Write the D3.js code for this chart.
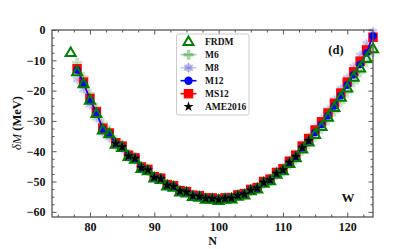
<!DOCTYPE html>
<html>
<head>
<meta charset="utf-8">
<script src="https://cdn.jsdelivr.net/npm/d3@7"></script>
<style>
  body { margin: 0; background: #fff; }
  svg text { font-family: "Liberation Serif", "Times New Roman", serif; font-weight: bold; }
</style>
</head>
<body>
<div id="chart"></div>
<script>
// N values
const n_frdm = [77,78,79,80,81,82,83,84,85,86,87,88,89,90,91,92,93,94,95,96,97,98,99,100,101,102,103,104,105,106,107,108,109,110,111,112,113,114,115,116,117,118,119,120,121,122,123,124];
const n_model = n_frdm.slice(1);
const n_ame = n_model.slice(6, 37);   // 84 .. 114

// δM (MeV)
const frdm = [-7.5,-13.8,-17.8,-23.2,-27.6,-33.0,-34.3,-37.7,-38.8,-41.8,-42.7,-45.7,-46.5,-48.9,-49.4,-51.5,-51.9,-53.5,-53.8,-55.0,-55.2,-55.9,-55.9,-56.3,-55.9,-55.8,-54.9,-54.5,-53.1,-52.5,-50.6,-49.8,-47.6,-46.5,-44.1,-42.2,-39.3,-37.0,-34.5,-31.9,-28.8,-25.6,-22.2,-19.2,-15.6,-12.6,-9.4,-6.2];
const m6 = [-10.8,-15.5,-21.0,-25.6,-30.8,-33.0,-36.3,-37.8,-40.9,-41.9,-45.0,-45.8,-48.3,-48.8,-51.0,-51.4,-53.1,-53.4,-54.7,-54.9,-55.6,-55.6,-56.0,-55.7,-55.6,-54.8,-54.4,-53.0,-52.5,-50.7,-49.9,-47.9,-46.8,-44.5,-42.7,-39.8,-37.6,-35.2,-32.7,-29.9,-27.0,-23.8,-20.6,-17.3,-14.0,-10.6,-7.2];
const m8 = [-16.3,-19.6,-24.6,-29.0,-33.8,-35.6,-38.2,-39.2,-42.1,-42.9,-45.8,-46.6,-48.9,-49.4,-51.5,-51.8,-53.4,-53.6,-54.8,-55.0,-55.6,-55.6,-55.9,-55.4,-55.3,-54.3,-53.9,-52.4,-51.8,-49.8,-49.0,-46.7,-45.5,-43.0,-41.0,-37.9,-35.5,-32.5,-29.6,-26.4,-23.1,-19.5,-15.9,-12.2,-8.4,-4.6,-0.6];
const m12 = [-13.2,-17.6,-23.0,-27.3,-32.7,-34.2,-37.4,-38.5,-41.5,-42.4,-45.4,-46.2,-48.6,-49.1,-51.2,-51.6,-53.2,-53.5,-54.7,-54.9,-55.5,-55.5,-55.9,-55.5,-55.4,-54.5,-54.1,-52.8,-52.2,-50.3,-49.5,-47.4,-46.2,-43.8,-41.9,-38.9,-36.6,-33.8,-31.2,-28.3,-25.1,-21.7,-18.2,-14.8,-11.4,-7.6,-2.0];
const ms12 = [-12.8,-17.2,-22.6,-27.0,-32.4,-34.0,-37.2,-38.3,-41.3,-42.2,-45.2,-46.0,-48.4,-48.9,-51.0,-51.4,-53.0,-53.3,-54.5,-54.7,-55.4,-55.4,-55.8,-55.4,-55.3,-54.4,-54.0,-52.6,-52.0,-50.0,-49.2,-47.0,-45.8,-43.3,-41.3,-38.3,-35.8,-33.0,-30.3,-27.4,-24.2,-20.8,-17.2,-13.8,-10.3,-6.6,-2.4];
const ame2016 = [-37.4,-38.6,-41.6,-42.4,-45.4,-46.2,-48.6,-49.1,-51.2,-51.6,-53.2,-53.5,-54.7,-54.9,-55.6,-55.6,-56.0,-55.6,-55.5,-54.6,-54.2,-52.8,-52.2,-50.3,-49.5,-47.3,-46.2,-43.7,-41.8,-38.8,-36.5];

const x_major = [80, 90, 100, 110, 120];
const y_major = [0, -10, -20, -30, -40, -50, -60];
const legend_names = ["FRDM", "M6", "M8", "M12", "MS12", "AME2016"];

// 描画領域
const W = 415, H = 249;
const p_left = 52, p_right = 373, p_top = 30, p_bottom = 217;
const frame_color = "#555";

const svg = d3.select("#chart").append("svg")
    .attr("width", W)
    .attr("height", H);

const x = d3.scaleLinear().domain([74.1, 124]).range([p_left, p_right]);
const y = d3.scaleLinear().domain([-61.7, 0]).range([p_bottom, p_top]);

const x_minor = d3.range(75, 124, 2.5).filter(v => x_major.indexOf(v) < 0);
const y_minor = d3.range(-60, 0.1, 2.5).filter(v => y_major.indexOf(v) < 0);

// 軸 (目盛は内向き)
function add_axis(axis_fn, scale, tr, major, minor, labels, pad){
    const g = svg.append("g").attr("transform", tr);
    g.call(axis_fn(scale).tickValues(minor).tickSize(-2.5).tickFormat(""));
    const g2 = svg.append("g").attr("transform", tr);
    const ax = axis_fn(scale).tickValues(major).tickSize(-4.5).tickPadding(pad);
    if (labels) ax.tickFormat(d => d < 0 ? "\u2212" + Math.abs(d) : d);
    else ax.tickFormat("");
    g2.call(ax);
    [g, g2].forEach(s => {
        s.select(".domain").remove();
        s.selectAll("line").attr("stroke", frame_color).attr("stroke-width", 1);
        s.selectAll("text").attr("font-size", 12).attr("fill", "#111")
            .attr("font-family", "Liberation Serif").attr("font-weight", "bold");
    });
}
add_axis(d3.axisBottom, x, `translate(0,${p_bottom})`, x_major, x_minor, true, 5.5);
add_axis(d3.axisTop, x, `translate(0,${p_top})`, x_major, x_minor, false, 5);
add_axis(d3.axisLeft, y, `translate(${p_left},0)`, y_major, y_minor, true, 6.5);
add_axis(d3.axisRight, y, `translate(${p_right},0)`, y_major, y_minor, false, 5);

// データ層
const plot = svg.append("g");

function tri_path(cx, cy, s){
    const h = s * Math.sqrt(3) / 2;
    return `M${cx},${cy - 2*h/3}L${cx + s/2},${cy + h/3}L${cx - s/2},${cy + h/3}Z`;
}
function plus_path(cx, cy, s, t){
    const a = s/2, b = t/2;
    return `M${cx-b},${cy-a}H${cx+b}V${cy-b}H${cx+a}V${cy+b}H${cx+b}V${cy+a}H${cx-b}V${cy+b}H${cx-a}V${cy-b}H${cx-b}Z`;
}

// マーカー描画関数
const markers = {
    "M6": (g, cx, cy, legend) => {
        g.append("path").attr("d", plus_path(cx, cy, 10, 3.5))
            .attr("fill", "green").attr("fill-opacity", legend ? 0.35 : 0.22);
    },
    "M8": (g, cx, cy, legend) => {
        g.append("circle").attr("cx", cx).attr("cy", cy).attr("r", 4.2)
            .attr("fill", "#6060d0").attr("fill-opacity", legend ? 0.35 : 0.2);
        g.append("path").attr("transform", `translate(${cx},${cy})`)
            .attr("d", d3.symbol(d3.symbolAsterisk, 80)())
            .attr("stroke", "#6060d0").attr("stroke-opacity", legend ? 0.4 : 0.25)
            .attr("stroke-width", 1.2).attr("fill", "none");
    },
    "M12": (g, cx, cy, legend) => {
        g.append("circle").attr("cx", cx).attr("cy", cy).attr("r", legend ? 4.2 : 3.8)
            .attr("fill", "#0000ff");
    },
    "MS12": (g, cx, cy) => {
        g.append("path").attr("transform", `translate(${cx},${cy})`)
            .attr("d", d3.symbol(d3.symbolSquare, 90)())
            .attr("fill", "#ff0000");
    },
    "FRDM": (g, cx, cy) => {
        g.append("path").attr("d", tri_path(cx, cy + 0.5, 10))
            .attr("fill", "none").attr("stroke", "#008000").attr("stroke-width", 2);
    },
    "AME2016": (g, cx, cy) => {
        g.append("path").attr("transform", `translate(${cx},${cy})`)
            .attr("d", d3.symbol(d3.symbolStar, 32)())
            .attr("fill", "#000");
    }
};

const line_gen = (ns) => d3.line().x((d, i) => x(ns[i])).y(d => y(d));

const series = [
    { name: "M6", n: n_model, v: m6, line: "green", lop: 0.22 },
    { name: "M8", n: n_model, v: m8, line: "#6060d0", lop: 0.2 },
    { name: "MS12", n: n_model, v: ms12, line: "#ff0000", lop: 1 },
    { name: "M12", n: n_model, v: m12, line: "#0000ff", lop: 1 },
    { name: "FRDM", n: n_frdm, v: frdm, line: null },
    { name: "AME2016", n: n_ame, v: ame2016, line: null }
];

series.forEach(s => {
    const g = plot.append("g").attr("class", "s_" + s.name);
    if (s.line){
        g.append("path").datum(s.v)
            .attr("d", line_gen(s.n))
            .attr("fill", "none")
            .attr("stroke", s.line)
            .attr("stroke-opacity", s.lop)
            .attr("stroke-width", 1.5);
    }
    s.v.forEach((v, i) => markers[s.name](g, x(s.n[i]), y(v), false));
});

// 凡例
const lg = svg.append("g").attr("class", "legend");
lg.append("rect")
    .attr("x", 176.5).attr("y", 34).attr("width", 72.5).attr("height", 81)
    .attr("rx", 2).attr("fill", "#fff").attr("fill-opacity", 0.85)
    .attr("stroke", "#ccc").attr("stroke-width", 1);
const legend_line = { "M6": ["green", 0.35], "M8": ["#6060d0", 0.35], "M12": ["#0000ff", 1], "MS12": ["#ff0000", 1] };
legend_names.forEach((name, i) => {
    const cy = 41.7 + i * 13;
    if (legend_line[name]){
        lg.append("line").attr("x1", 180.5).attr("x2", 196.5).attr("y1", cy).attr("y2", cy)
            .attr("stroke", legend_line[name][0]).attr("stroke-opacity", legend_line[name][1])
            .attr("stroke-width", 1.6);
    }
    markers[name](lg, 188.5, cy, true);
    lg.append("text").attr("x", 205).attr("y", cy).attr("dy", "0.35em")
        .attr("font-size", 9.5).attr("fill", "#111").text(name);
});

// 枠
svg.append("rect")
    .attr("x", p_left).attr("y", p_top)
    .attr("width", p_right - p_left).attr("height", p_bottom - p_top)
    .attr("fill", "none").attr("stroke", frame_color).attr("stroke-width", 1.3);

// 注記
svg.append("text").attr("x", 336).attr("y", 54).attr("text-anchor", "middle")
    .attr("font-size", 12.5).attr("fill", "#111").text("(d)");
svg.append("text").attr("x", 348).attr("y", 202).attr("text-anchor", "middle")
    .attr("font-size", 13).attr("fill", "#111").text("W");

// 軸ラベル
svg.append("text").attr("x", 212.5).attr("y", 245).attr("text-anchor", "middle")
    .attr("font-size", 12).attr("fill", "#111").text("N");
const yl = svg.append("text")
    .attr("transform", "translate(21,123) rotate(-90)")
    .attr("text-anchor", "middle").attr("font-size", 12.5).attr("fill", "#111");
yl.append("tspan").attr("font-style", "italic").attr("font-weight", "normal").text("δM");
yl.append("tspan").text(" (MeV)");
</script>
</body>
</html>
